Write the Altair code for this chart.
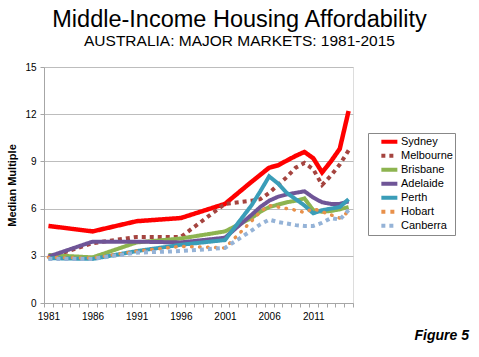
import altair as alt
import pandas as pd

# ---- data ----
years = [1981, 1986, 1991, 1996, 2001, 2004, 2005, 2006, 2007, 2008, 2009, 2010, 2011, 2012, 2013, 2014, 2015]
sydney    = [4.9, 4.55, 5.2, 5.4, 6.3, 7.7, 8.15, 8.6, 8.75, 9.05, 9.35, 9.6, 9.2, 8.3, 9.0, 9.8, 12.2]
melbourne = [2.9, 3.8, 4.2, 4.2, 6.3, 6.5, 6.6, 7.0, 7.5, 8.0, 8.6, 8.9, 8.5, 7.5, 8.1, 8.8, 9.7]
brisbane  = [3.05, 2.9, 3.85, 4.1, 4.55, 5.4, 5.8, 6.1, 6.25, 6.4, 6.5, 6.65, 5.9, 5.8, 5.85, 5.95, 6.1]
adelaide  = [2.95, 3.9, 3.9, 3.85, 4.15, 5.6, 6.1, 6.5, 6.75, 6.9, 7.0, 7.1, 6.7, 6.4, 6.3, 6.3, 6.45]
perth     = [2.85, 2.8, 3.3, 3.7, 4.0, 6.2, 7.1, 8.05, 7.6, 7.0, 6.6, 6.2, 5.7, 5.9, 6.0, 6.1, 6.6]
hobart    = [2.9, 2.85, 3.3, 3.6, 3.5, 5.2, 5.8, 6.2, 6.1, 6.0, 5.9, 5.75, 6.0, 5.8, 5.6, 5.4, 5.8]
canberra  = [2.8, 2.8, 3.2, 3.3, 3.5, 4.6, 5.0, 5.3, 5.15, 5.05, 4.95, 4.9, 4.9, 5.1, 5.4, 5.3, 5.9]

cities = ["Sydney", "Melbourne", "Brisbane", "Adelaide", "Perth", "Hobart", "Canberra"]
series = [sydney, melbourne, brisbane, adelaide, perth, hobart, canberra]
colors = ["#FF0000", "#A5443F", "#8DB450", "#6F5597", "#3A9DB8", "#E8904A", "#95B3D7"]
dashes = [[1, 0], [4, 4], [1, 0], [1, 0], [1, 0], [4, 5], [4, 4]]
widths = [4.5, 4, 4, 4, 4, 3.5, 4]

y_ticks = [0, 3, 6, 9, 12, 15]
x_tick_bounds = [1980.5 + i for i in range(36)]

rows = []
for c, vals in zip(cities, series):
    for yr, v in zip(years, vals):
        rows.append({"city": c, "year": yr, "value": v})
df = pd.DataFrame(rows)

FONT = "Liberation Sans"

legend = alt.Legend(
    orient="none", legendX=324, legendY=66, title=None,
    strokeColor="#888888", fillColor="white", padding=2,
    symbolType="M0.9,0H4.2", symbolSize=94, symbolStrokeWidth=4,
    labelFontSize=11, labelFont=FONT, labelColor="#000000",
    labelOffset=17, rowPadding=0, clipHeight=13.7,
    labelExpr="datum.label + '  '",
)

x_enc = alt.X(
    "year:Q",
    scale=alt.Scale(domain=[1980.5, 2015.5], nice=False, zero=False),
    axis=alt.Axis(
        values=x_tick_bounds,
        labelExpr="((datum.value + 0.5 - 1981) % 5 == 0 && datum.value < 2012) ? '' + (datum.value + 0.5) : ''",
        labelOffset=4.4, labelFlush=False, labelOverlap=False,
        grid=False, tickSize=4, title=None,
        domainColor="#A6A6A6", tickColor="#A6A6A6",
        labelFont=FONT, labelFontSize=10, labelColor="#000000", labelPadding=4,
    ),
)
y_enc = alt.Y(
    "value:Q",
    scale=alt.Scale(domain=[0, 15], nice=False),
    axis=alt.Axis(
        values=y_ticks, grid=True, gridColor="#BDBDBD", tickSize=4,
        domainColor="#A6A6A6", tickColor="#A6A6A6",
        labelFont=FONT, labelFontSize=10, labelColor="#000000", labelPadding=4,
        title="Median Multiple", titleFont=FONT, titleFontSize=11,
        titleFontWeight="bold", titleColor="#000000", titlePadding=7,
    ),
)
color_enc = alt.Color("city:N", scale=alt.Scale(domain=cities, range=colors), legend=legend)
dash_enc = alt.StrokeDash("city:N", scale=alt.Scale(domain=cities, range=dashes), legend=legend)

layers = []
for c, w in zip(cities, widths):
    sub = df[df.city == c]
    if c == "Hobart":
        m = alt.Chart(sub).mark_line(strokeWidth=w, strokeCap="round", strokeDash=[0.5, 7.5])
        enc = dict(x=x_enc, y=y_enc, color=color_enc)
    else:
        m = alt.Chart(sub).mark_line(strokeWidth=w, strokeCap="butt")
        enc = dict(x=x_enc, y=y_enc, color=color_enc, strokeDash=dash_enc)
    layers.append(m.encode(**enc))

fig = alt.Chart(pd.DataFrame({"t": ["Figure 5"]})).mark_text(
    font=FONT, fontSize=14, fontWeight="bold", fontStyle="italic",
    align="right", baseline="alphabetic", color="#000000",
).encode(text="t:N", x=alt.value(425), y=alt.value(273))
layers.append(fig)

chart = alt.layer(*layers).properties(
    width=309, height=236,
    title=alt.TitleParams(
        "Middle-Income Housing Affordability",
        subtitle="AUSTRALIA: MAJOR MARKETS: 1981-2015",
        font=FONT, fontSize=23.5, fontWeight="normal", color="#000000",
        subtitleFont=FONT, subtitleFontSize=15.5, subtitleColor="#000000",
        subtitlePadding=2, anchor="middle", frame="group", dx=41, offset=13,
    ),
    autosize=alt.AutoSizeParams(type="none"),
    padding={"left": 44, "top": 67, "right": 126, "bottom": 54},
).configure_view(stroke=None).configure(background="white")

chart.save("out.html", embed_options={"renderer": "svg", "actions": False})
